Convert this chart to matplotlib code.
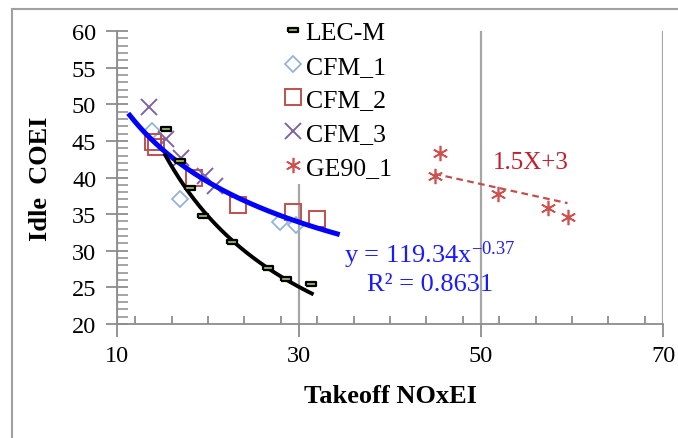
import matplotlib
matplotlib.use('Agg')
import matplotlib.pyplot as plt
import matplotlib.ticker as mticker
import numpy as np
from matplotlib.patches import Rectangle

plt.rcParams.update({
    'font.family': ['Liberation Serif', 'DejaVu Serif'],
    'mathtext.fontset': 'custom', 'mathtext.rm': 'Liberation Serif',
    'mathtext.it': 'Liberation Serif:italic', 'mathtext.bf': 'Liberation Serif:bold',
})

# --- data ---
lec_x = [15.4, 16.9, 18.0, 19.5, 22.6, 26.6, 28.6, 31.3]
lec_y = [46.6, 42.2, 38.6, 34.8, 31.2, 27.6, 26.2, 25.5]
cfm1_x = [13.8, 16.9, 27.9, 29.7]
cfm1_y = [46.3, 37.0, 33.9, 33.5]
cfm2_x = [14.0, 14.3, 18.5, 23.3, 29.3, 32.0]
cfm2_y = [44.9, 44.1, 40.0, 36.2, 35.3, 34.3]
cfm3_x = [13.5, 15.4, 17.0, 19.7, 20.8]
cfm3_y = [49.6, 45.3, 42.6, 40.2, 38.8]
ge90_x = [45.5, 44.9, 51.9, 57.3, 59.5]
ge90_y = [43.4, 40.2, 37.7, 35.8, 34.6]

# power-law trend lines y = a * x^b
cfm_fit = (119.34, -0.37)
cfm_fit_range = (11.4, 34.2)
lec_fit = (386.0, -0.804)
lec_fit_range = (15.3, 31.4)
# hand-drawn dashed trend for GE90_1
ge90_trend_x = [44.9, 59.5]
ge90_trend_y = [40.5, 36.5]

x_ticks = [10, 30, 50, 70]
y_ticks = [20, 25, 30, 35, 40, 45, 50, 55, 60]

fig = plt.figure(figsize=(6.78, 4.39), dpi=100)
ax = fig.add_axes([0.1726, 0.2597, 0.8054, 0.6673])

grey = '#8c8c8c'

xs = np.linspace(*cfm_fit_range, 200)
ax.plot(xs, cfm_fit[0] * xs ** cfm_fit[1], color='#0000ff', lw=3.6, zorder=4)
xs = np.linspace(*lec_fit_range, 200)
ax.plot(xs, lec_fit[0] * xs ** lec_fit[1], color='black', lw=2.8, zorder=4)
ax.plot(ge90_trend_x, ge90_trend_y, color='#c0504d', lw=1.6, ls=(0, (3, 2)), zorder=3)

dash = [(-1, -0.45), (1, -0.45), (1, 0.45), (-1, 0.45), (-1, -0.45)]
ax.plot(lec_x, lec_y, ls='none', marker=dash, ms=7, mfc='#9bbb59', mec='black',
        mew=1.6, label='LEC-M', zorder=5)
ax.plot(cfm1_x, cfm1_y, ls='none', marker='D', ms=8, mfc='none', mec='#95b3d7',
        mew=1.3, label='CFM_1', zorder=3)
ax.plot(cfm2_x, cfm2_y, ls='none', marker='s', ms=11, mfc='none', mec='#c0504d',
        mew=1.4, label='CFM_2', zorder=3)
ax.plot(cfm3_x, cfm3_y, ls='none', marker='x', ms=11, mfc='none', mec='#8064a2',
        mew=1.4, label='CFM_3', zorder=3)
ax.plot(ge90_x, ge90_y, ls='none', marker=(6, 2, 0), ms=11, mec='#d0504d',
        mew=1.2, label='GE90_1', zorder=3)

ax.set_xlim(10, 70)
ax.set_ylim(20, 60)
ax.set_xticks(x_ticks)
ax.set_yticks(y_ticks)
ax.xaxis.set_minor_locator(mticker.MultipleLocator(4))
ax.yaxis.set_minor_locator(mticker.MultipleLocator(1))
ax.tick_params(axis='x', which='major', direction='out', length=9, width=1.3,
               color=grey, labelsize=17.5, pad=6)
ax.tick_params(axis='x', which='minor', direction='in', length=6, width=1.3, color=grey)
ax.tick_params(axis='y', which='major', direction='inout', length=16, width=1.3,
               color=grey, labelsize=17.5, pad=7)
ax.tick_params(axis='y', which='minor', direction='in', length=8, width=1.1, color=grey)
ax.xaxis.grid(True, which='major', color='#a6a6a6', lw=1.6)
ax.set_axisbelow(True)
for s in ['top', 'right']:
    ax.spines[s].set_visible(False)
for s in ['left', 'bottom']:
    ax.spines[s].set_color(grey)
    ax.spines[s].set_linewidth(1.3)

ax.set_xlabel('Takeoff NOxEI', fontsize=19, fontweight='bold', labelpad=13)
ax.set_ylabel('Idle  COEI', fontsize=19, fontweight='bold', labelpad=14)

ax.text(44.4, 29.55, r'y = 119.34x$^{-0.37}$', color='#1a1aff', fontsize=19,
        ha='center', va='center', zorder=6)
ax.text(44.4, 25.45, 'R² = 0.8631', color='#1a1aff', fontsize=19,
        ha='center', va='center', zorder=6)
ax.text(55.5, 42.1, '1.5X+3', color='#c41e2e', fontsize=18, ha='center', va='center')

leg = ax.legend(loc='upper left', bbox_to_anchor=(0.413, 0.962),
                bbox_transform=fig.transFigure, fontsize=18.5, frameon=True,
                framealpha=1, edgecolor='none', facecolor='white', borderpad=0.2,
                labelspacing=0.42, handlelength=0.6, handletextpad=0.2,
                borderaxespad=0)
leg.set_zorder(10)

fig.patches.append(Rectangle((12 / 678, -0.1), 1.2, 0.977 + 0.1,
                             transform=fig.transFigure, fill=False,
                             edgecolor='#a0a0a0', lw=1.5))

fig.savefig('out.png', dpi=100)
plt.close()
